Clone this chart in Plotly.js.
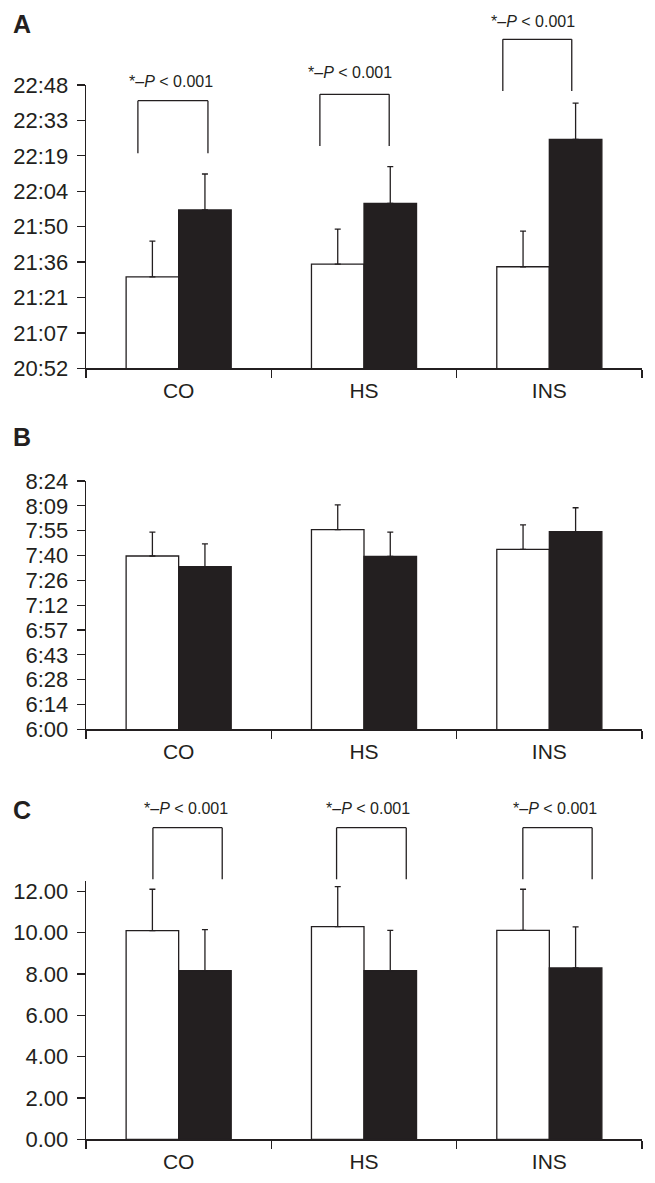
<!DOCTYPE html>
<html><head><meta charset="utf-8">
<script src="https://cdn.plot.ly/plotly-3.0.1.min.js"></script>
<style>html,body{margin:0;padding:0;background:#fff}#chart{width:655px;height:1183px}</style>
</head><body><div id="chart"></div>
<script>
// ---------- data ----------
const categories = ['CO', 'HS', 'INS'];

// Panel A (clock time, minutes after midnight)
const panelAWhite = [1290.0, 1295.2, 1294.1];
const panelAWhiteErr = [14.5, 14.2, 14.5];
const panelABlack = [1317.2, 1319.9, 1345.9];
const panelABlackErr = [14.6, 14.9, 14.7];
const tickValsA = [1252.8, 1267.2, 1281.6, 1296, 1310.4, 1324.8, 1339.2, 1353.6, 1368];
const tickTextA = ['20:52', '21:07', '21:21', '21:36', '21:50', '22:04', '22:19', '22:33', '22:48'];

// Panel B (clock time, minutes after midnight)
const panelBWhite = [460.5, 475.8, 464.4];
const panelBWhiteErr = [13.9, 14.3, 14.1];
const panelBBlack = [454.3, 460.3, 474.6];
const panelBBlackErr = [13.2, 14.1, 13.9];
const tickValsB = [360, 374.4, 388.8, 403.2, 417.6, 432, 446.4, 460.8, 475.2, 489.6, 504];
const tickTextB = ['6:00', '6:14', '6:28', '6:43', '6:57', '7:12', '7:26', '7:40', '7:55', '8:09', '8:24'];

// Panel C
const panelCWhite = [10.10, 10.29, 10.11];
const panelCWhiteErr = [2.00, 1.94, 1.99];
const panelCBlack = [8.16, 8.16, 8.29];
const panelCBlackErr = [1.99, 1.95, 1.99];
const tickValsC = [0, 2, 4, 6, 8, 10, 12];
const tickTextC = ['0.00', '2.00', '4.00', '6.00', '8.00', '10.00', '12.00'];

const pLabel = '*–<i>P</i> &lt; 0.001';

// ---------- style / layout ----------
const W = 655, H = 1183;
const ink = '#231f20';
const FONT = 'Liberation Sans, Arial, Helvetica, sans-serif';
const xDom = [86 / W, 642 / W];
const panels = [
  {id: '', white: panelAWhite, wErr: panelAWhiteErr, black: panelABlack, bErr: panelABlackErr,
   range: [1252.8, 1368], tv: tickValsA, tt: tickTextA, top: 85, bottom: 368.3, letter: 'A', letterY: 23.5},
  {id: '2', white: panelBWhite, wErr: panelBWhiteErr, black: panelBBlack, bErr: panelBBlackErr,
   range: [360, 504], tv: tickValsB, tt: tickTextB, top: 481, bottom: 729.3, letter: 'B', letterY: 437},
  {id: '3', white: panelCWhite, wErr: panelCWhiteErr, black: panelCBlack, bErr: panelCBlackErr,
   range: [0, 12.5], tv: tickValsC, tt: tickTextC, top: 881, bottom: 1139.3, letter: 'C', letterY: 810}
];

// brackets: [left offset, right offset (category units), top px, bottom px, text x offset, text px]
const bracketsA = [
  [-0.220, 0.158, 100.7, 153.3, -0.043, 81.7],
  [-0.238, 0.136, 94.3, 146.0, -0.078, 72.7],
  [-0.251, 0.121, 39.3, 91.0, -0.087, 21.7]
];
const bracketsC = [
  [-0.139, 0.235, 827.7, 879.3, 0.038, 808.3],
  [-0.148, 0.228, 827.7, 879.3, 0.021, 808.3],
  [-0.143, 0.231, 827.7, 879.3, 0.030, 808.3]
];

const data = [];
const layout = {
  width: W, height: H,
  margin: {l: 0, r: 0, t: 0, b: 0},
  paper_bgcolor: '#fff', plot_bgcolor: 'rgba(0,0,0,0)',
  showlegend: false,
  barmode: 'group', bargap: 0.433, bargroupgap: 0,
  font: {family: FONT, color: ink},
  shapes: [], annotations: []
};

panels.forEach(p => {
  const xa = 'x' + p.id, ya = 'y' + p.id;
  const zeros = categories.map(() => 0);
  [[p.white, p.wErr, '#ffffff'], [p.black, p.bErr, ink]].forEach(([vals, err, fill]) => {
    data.push({
      type: 'bar', x: categories, y: vals, xaxis: xa, yaxis: ya,
      marker: {color: fill, line: {color: ink, width: 1.3}},
      error_y: {type: 'data', symmetric: false, array: err, arrayminus: zeros,
                color: ink, thickness: 1.3, width: 3},
      hoverinfo: 'skip'
    });
  });
  const yDom = [1 - p.bottom / H, 1 - p.top / H];
  layout['xaxis' + p.id] = {
    type: 'category', domain: xDom, anchor: ya, range: [-0.5, 2.5],
    tickson: 'boundaries', ticks: 'outside', ticklen: 8, tickwidth: 1.3, tickcolor: ink,
    ticklabelstandoff: 3,
    showline: true, linecolor: ink, linewidth: 1.3, showgrid: false, zeroline: false,
    tickfont: {size: 21, family: FONT, color: ink}, fixedrange: true
  };
  layout['yaxis' + p.id] = {
    domain: yDom, anchor: xa, range: p.range, tickmode: 'array', tickvals: p.tv, ticktext: p.tt,
    ticks: 'outside', ticklen: 8, tickwidth: 1.3, tickcolor: ink, ticklabelstandoff: 4,
    showline: true, linecolor: ink, linewidth: 1.3, showgrid: false, zeroline: false,
    tickfont: {size: 22, family: FONT, color: ink}, fixedrange: true
  };
  layout.annotations.push({
    xref: 'paper', yref: 'paper', x: 11 / W, y: 1 - p.letterY / H, xanchor: 'left', yanchor: 'middle',
    text: '<b>' + p.letter + '</b>', showarrow: false, font: {size: 25, family: FONT, color: ink}
  });
});

function addBrackets(list, pid, top, bottom) {
  const h = bottom - top;
  const xr = 'x' + pid + ' domain', yr = 'y' + pid + ' domain';
  list.forEach((b, i) => {
    const xl = (i + 0.5 + b[0]) / 3, xrr = (i + 0.5 + b[1]) / 3;
    const yt = (bottom - b[2]) / h, yb = (bottom - b[3]) / h;
    const ln = {color: ink, width: 1.3};
    layout.shapes.push({type: 'line', xref: xr, yref: yr, x0: xl, x1: xl, y0: yb, y1: yt, line: ln});
    layout.shapes.push({type: 'line', xref: xr, yref: yr, x0: xl, x1: xrr, y0: yt, y1: yt, line: ln});
    layout.shapes.push({type: 'line', xref: xr, yref: yr, x0: xrr, x1: xrr, y0: yt, y1: yb, line: ln});
    layout.annotations.push({
      xref: xr, yref: yr, x: (i + 0.5 + b[4]) / 3, y: (bottom - b[5]) / h,
      xanchor: 'center', yanchor: 'middle', showarrow: false, text: pLabel,
      font: {size: 16, family: FONT, color: ink}
    });
  });
}
addBrackets(bracketsA, '', panels[0].top, panels[0].bottom);
addBrackets(bracketsC, '3', panels[2].top, panels[2].bottom);

Plotly.newPlot('chart', data, layout, {displayModeBar: false, staticPlot: true});
</script>
</body></html>
